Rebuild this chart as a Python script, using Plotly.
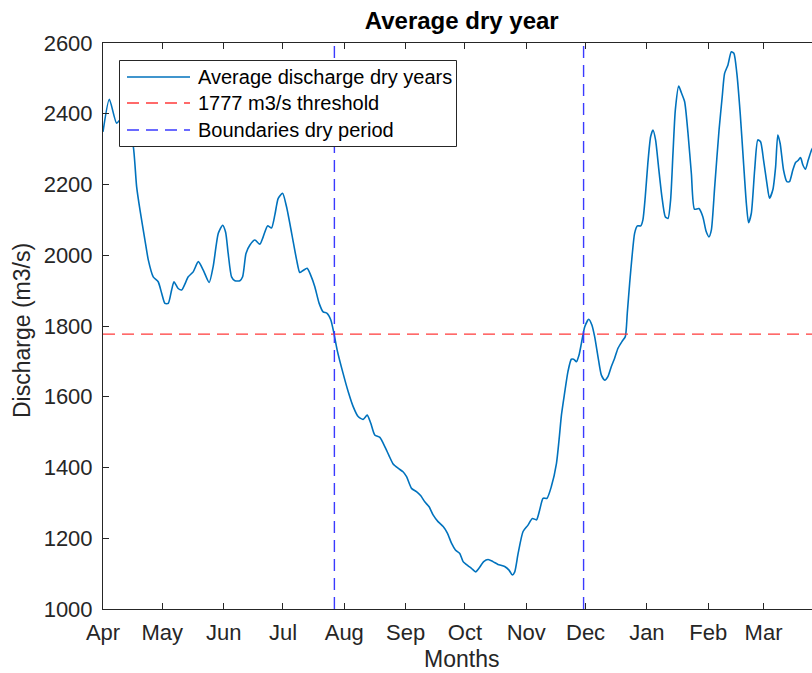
import plotly.graph_objects as go

# Days counted from 1 April, and average discharge (m3/s) for the dry years
day = [0, 3.2, 6.9, 9.1, 11.1, 13.1, 14.5, 15.3, 17.0, 18.7, 21.2, 22.9, 25.4, 27.9, 29.7,
       31.3, 33.0, 34.7, 35.9, 38.0, 39.8, 43.1, 45.6, 48.2, 50.7, 53.7, 55.7, 58.3, 60.5,
       62.0, 63.3, 65.0, 66.7, 69.2, 70.6, 72.3, 74.3, 76.8, 79.3, 81.0, 83.2, 85.2, 86.9,
       88.6, 90.8, 92.8, 95.4, 97.9, 99.5, 101.2, 103.2, 105.0, 107.1, 109.3, 111.3, 113.3,
       115.2, 116.7, 118.4, 121.4, 124.0, 126.5, 129.0, 131.5, 133.6, 135.4, 137.4, 140.0,
       142.5, 144.5, 146.7, 149.2, 151.7, 153.5, 156.0, 158.5, 160.7, 162.7, 164.9, 166.9,
       169.4, 172.0, 174.2, 176.2, 178.2, 180.4, 182.1, 184.6, 186.3, 188.5, 190.1, 192.5,
       194.7, 197.2, 199.7, 203.1, 205.3, 207.0, 208.2, 209.9, 212.4, 214.9, 217.1, 219.2,
       220.8, 222.5, 224.5, 226.7, 229.3, 230.6, 231.8, 233.4, 235.1, 236.8, 238.0, 239.4,
       240.7, 241.9, 243.6, 245.6, 247.2, 248.6, 250.3, 252.0, 253.7, 255.3, 257.0, 258.7,
       260.4, 262.4, 264.1, 265.1, 266.3, 267.5, 268.8, 270.2, 271.9, 273.0, 274.2, 275.5,
       276.9, 278.1, 279.4, 280.9, 282.6, 284.3, 285.7, 287.0, 288.2, 289.4, 291.1, 292.4,
       294.1, 295.8, 297.5, 299.1, 301.3, 303.3, 305.0, 306.4, 307.6, 309.3, 311.5, 313.1,
       314.3, 316.0, 317.7, 319.0, 320.5, 322.2, 323.9, 325.3, 326.4, 327.8, 329.5, 331.1,
       332.5, 334.0, 335.7, 337.0, 338.7, 340.1, 341.2, 342.4, 344.1, 345.8, 347.1, 348.8,
       350.2, 351.3, 352.7, 353.9, 355.2, 356.6, 358.3, 359.0]
discharge = [2349, 2441, 2373, 2385, 2370, 2335, 2316, 2307, 2194, 2128, 2043, 1987, 1939, 1925, 1892,
             1864, 1864, 1902, 1925, 1906, 1902, 1939, 1953, 1982, 1958, 1923, 1968, 2062, 2085,
             2065, 2005, 1939, 1928, 1928, 1939, 2005, 2029, 2043, 2031, 2052, 2083, 2077, 2114,
             2161, 2175, 2137, 2062, 1987, 1951, 1957, 1963, 1944, 1911, 1864, 1840, 1836,
             1817, 1781, 1732, 1666, 1614, 1572, 1544, 1536, 1548, 1525, 1492, 1485,
             1459, 1435, 1410, 1398, 1388, 1374, 1341, 1332, 1320, 1303, 1289, 1266,
             1247, 1233, 1214, 1186, 1167, 1157, 1134, 1122, 1115, 1105, 1115, 1134,
             1140, 1134, 1126, 1120, 1110, 1096, 1105, 1157, 1219, 1237, 1256, 1252,
             1280, 1313, 1313, 1346, 1412, 1478, 1548, 1610, 1671, 1706, 1706, 1699,
             1718, 1751, 1798, 1819, 1803, 1770, 1713, 1661, 1647, 1657, 1685, 1709,
             1737, 1756, 1770, 1836, 1921, 1996, 2062, 2083, 2083, 2100, 2166, 2260,
             2335, 2354, 2326, 2250, 2166, 2109, 2104, 2156, 2288, 2411, 2478, 2460,
             2434, 2345, 2231, 2130, 2132, 2109, 2067, 2052, 2071, 2194, 2354, 2448,
             2514, 2538, 2575, 2571, 2514, 2401, 2260, 2147, 2092, 2118, 2241, 2326,
             2321, 2269, 2203, 2161, 2185, 2250, 2340, 2316, 2241, 2208, 2208, 2241,
             2262, 2267, 2276, 2255, 2243, 2269, 2298, 2305]

threshold = 1777
dry_bounds = [117, 243]  # 27 Jul and 30 Nov

month_starts = [0, 30, 61, 91, 122, 153, 183, 214, 244, 275, 306, 334]
month_labels = ["Apr", "May", "Jun", "Jul", "Aug", "Sep", "Oct", "Nov", "Dec", "Jan", "Feb", "Mar"]

legend_labels = ["Average discharge dry years", "1777 m3/s threshold", "Boundaries dry period"]

x_range = [0, 358.5]
y_range = [1000, 2600]

FONT = "Liberation Sans, Arial, Helvetica, sans-serif"
INK = "#262626"
C_LINE = "#0072BD"
C_THR = "#ff3a3a"
C_BND = "#3a3aff"
DASH = "12px,7px"

W, H = 812, 673
ML, MR, MT, MB = 103, 0, 43, 64
PW, PH = W - ML - MR, H - MT - MB


def px(xp):
    """Horizontal pixel position -> paper fraction."""
    return (xp - ML) / PW


def py(yp):
    """Vertical pixel position (from top) -> paper fraction."""
    return (H - MB - yp) / PH


fig = go.Figure()

fig.add_trace(go.Scatter(
    x=day, y=discharge, mode="lines",
    line=dict(color=C_LINE, width=1.6, shape="spline", smoothing=0.6),
    name=legend_labels[0], showlegend=False,
))
fig.add_trace(go.Scatter(
    x=x_range, y=[threshold, threshold], mode="lines",
    line=dict(color=C_THR, width=1.4, dash=DASH),
    name=legend_labels[1], showlegend=False,
))
for b in dry_bounds:
    fig.add_trace(go.Scatter(
        x=[b, b], y=y_range, mode="lines",
        line=dict(color=C_BND, width=1.4, dash=DASH),
        name=legend_labels[2], showlegend=False,
    ))

# Boxed legend in the upper-left corner of the axes
shapes = [dict(type="rect", xref="paper", yref="paper",
               x0=px(119.5), x1=px(456.5), y0=py(146.5), y1=py(60.5),
               line=dict(color=INK, width=1), fillcolor="white", layer="above")]
annotations = []
row_y = [77, 103, 130]
styles = [dict(color=C_LINE, width=1.6), dict(color=C_THR, width=1.4, dash=DASH),
          dict(color=C_BND, width=1.4, dash=DASH)]
for yy, label, st in zip(row_y, legend_labels, styles):
    shapes.append(dict(type="line", xref="paper", yref="paper",
                       x0=px(127), x1=px(190), y0=py(yy), y1=py(yy),
                       line=st, layer="above"))
    annotations.append(dict(text=label, xref="paper", yref="paper",
                            x=px(196), y=py(yy), xanchor="left", yanchor="middle",
                            showarrow=False,
                            font=dict(family=FONT, size=20, color="#000000")))

annotations += [
    dict(text="Months", xref="paper", yref="paper", x=0.506, y=0, yshift=-50,
         showarrow=False, xanchor="center", yanchor="middle",
         font=dict(family=FONT, size=23, color=INK)),
    dict(text="Discharge (m3/s)", xref="paper", yref="paper", x=0, xshift=-81,
         y=0.5, yshift=-5, showarrow=False, textangle=-90, xanchor="center", yanchor="middle",
         font=dict(family=FONT, size=23, color=INK)),
]

fig.update_layout(
    width=W, height=H,
    margin=dict(l=ML, r=MR, t=MT, b=MB),
    paper_bgcolor="white", plot_bgcolor="white",
    font=dict(family=FONT, size=22, color=INK),
    title=dict(text="<b>Average dry year</b>", x=0.506, xref="paper", xanchor="center",
               y=0.970, yref="container", yanchor="middle",
               font=dict(family=FONT, size=24, color="#000000")),
    showlegend=False,
    shapes=shapes,
    annotations=annotations,
)

fig.update_xaxes(
    range=x_range, tickvals=month_starts, ticktext=month_labels,
    showgrid=False, zeroline=False,
    showline=True, linecolor=INK, linewidth=1, mirror="ticks",
    ticks="inside", ticklen=6, tickcolor=INK, tickwidth=1,
    ticklabelstandoff=4,
    tickfont=dict(family=FONT, size=22, color=INK),
)
fig.update_yaxes(
    range=y_range, tickvals=list(range(1000, 2601, 200)),
    showgrid=False, zeroline=False,
    showline=True, linecolor=INK, linewidth=1, mirror=False,
    ticks="inside", ticklen=6, tickcolor=INK, tickwidth=1,
    ticklabelstandoff=5,
    tickfont=dict(family=FONT, size=22, color=INK),
)

fig.write_html("out.html")
